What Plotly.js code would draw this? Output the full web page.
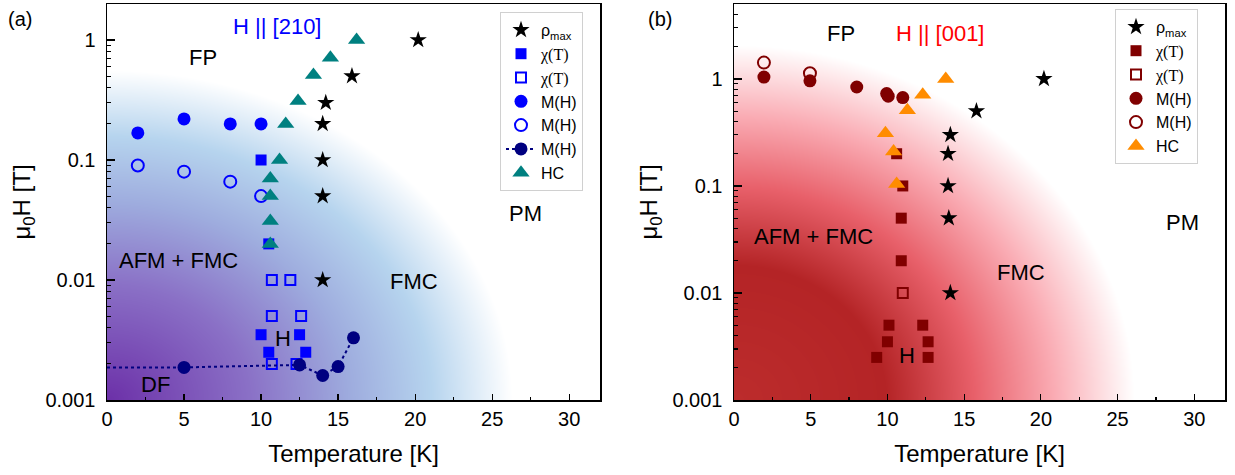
<!DOCTYPE html>
<html>
<head>
<meta charset="utf-8">
<script src="https://cdn.plot.ly/plotly-3.0.1.min.js"></script>
<style>html,body{margin:0;padding:0;background:#fff;}#chart{width:1235px;height:475px;}</style>
</head>
<body>
<div id="chart"></div>
<script>
// ---------- Panel (a): H || [210] ----------
const a_rho_T = [20.2, 15.9, 14.2, 14.0, 14.0, 14.0, 14.0];
const a_rho_H = [1.0, 0.5, 0.3, 0.2, 0.1, 0.05, 0.01];
const a_chiF_T = [10.0, 10.5, 10.0, 12.5, 10.5, 12.9];
const a_chiF_H = [0.1, 0.02, 0.0035, 0.0035, 0.0025, 0.0025];
const a_chiO_T = [10.7, 11.9, 10.7, 12.6, 10.7, 12.3];
const a_chiO_H = [0.01, 0.01, 0.005, 0.005, 0.002, 0.002];
const a_MF_T = [2.0, 5.0, 8.0, 10.0];
const a_MF_H = [0.168, 0.22, 0.2, 0.2];
const a_MO_T = [2.0, 5.0, 8.0, 10.0];
const a_MO_H = [0.09, 0.08, 0.066, 0.05];
const a_MD_T = [5.0, 12.5, 14.0, 15.0, 16.0];
const a_MD_H = [0.00187, 0.00196, 0.0016, 0.0019, 0.0033];
const a_MDline_T = [0.0, 5.0];
const a_MDline_H = [0.00187, 0.00187];
const a_HC_T = [16.2, 14.5, 13.4, 12.4, 11.6, 11.2, 10.6, 10.6, 10.6, 10.6];
const a_HC_H = [1.0, 0.71, 0.51, 0.31, 0.2, 0.1, 0.07, 0.05, 0.031, 0.02];

// ---------- Panel (b): H || [001] ----------
const b_rho_T = [20.2, 15.8, 14.1, 13.95, 13.95, 14.0, 14.1];
const b_rho_H = [1.0, 0.5, 0.3, 0.2, 0.1, 0.05, 0.01];
const b_chiF_T = [10.6, 11.0, 10.9, 10.9, 10.1, 12.3, 10.0, 12.65, 9.3, 12.65];
const b_chiF_H = [0.2, 0.1, 0.05, 0.02, 0.005, 0.005, 0.0035, 0.0035, 0.0025, 0.0025];
const b_chiO_T = [11.0];
const b_chiO_H = [0.01];
const b_MF_T = [1.95, 4.95, 8.0, 9.95, 10.05, 11.0];
const b_MF_H = [1.04, 0.96, 0.84, 0.73, 0.69, 0.67];
const b_MO_T = [1.95, 4.95];
const b_MO_H = [1.42, 1.13];
const b_HC_T = [13.8, 12.3, 11.3, 9.87, 10.4, 10.6];
const b_HC_H = [1.0, 0.71, 0.51, 0.31, 0.21, 0.104];

const xTicks = [0, 5, 10, 15, 20, 25, 30];
const xMinor = [2.5, 7.5, 12.5, 17.5, 22.5, 27.5];
const yTicks = [0.001, 0.01, 0.1, 1];
const yTickText = ['0.001', '0.01', '0.1', '1'];
const yMinor = [];
[0.001, 0.01, 0.1, 1].forEach(d => { for (let k = 2; k <= 9; k++) yMinor.push(d * k); });

// ---------- layout geometry ----------
const W = 1235, H = 475;
const P = {
  a: {l: 107, r: 600, t: 4, b: 400},
  b: {l: 734, r: 1225, t: 4, b: 400}
};
const dom = p => ({x: [p.l / W, p.r / W], y: [1 - p.b / H, 1 - p.t / H]});
const dA = dom(P.a), dB = dom(P.b);

// ---------- background gradient images ----------
function gradImage(w, h, rx, ry, stops) {
  const c = document.createElement('canvas');
  c.width = w; c.height = h;
  const ctx = c.getContext('2d');
  const img = ctx.createImageData(w, h);
  for (let py = 0; py < h; py++) {
    for (let px = 0; px < w; px++) {
      const dx = px / rx, dy = (h - py) / ry;
      const r = Math.sqrt(dx * dx + dy * dy);
      let col = [255, 255, 255];
      for (let i = 0; i < stops.length - 1; i++) {
        const s0 = stops[i], s1 = stops[i + 1];
        if (r >= s0[0] && r <= s1[0]) {
          const f = (r - s0[0]) / (s1[0] - s0[0]);
          col = [0, 1, 2].map(j => s0[1][j] + (s1[1][j] - s0[1][j]) * f);
          break;
        }
      }
      if (r < stops[0][0]) col = stops[0][1];
      const o = (py * w + px) * 4;
      img.data[o] = col[0]; img.data[o + 1] = col[1]; img.data[o + 2] = col[2]; img.data[o + 3] = 255;
    }
  }
  ctx.putImageData(img, 0, 0);
  return c.toDataURL('image/png');
}
const imgA = gradImage(P.a.r - P.a.l, P.a.b - P.a.t, 405, 330, [
  [0, [108, 48, 168]], [0.35, [138, 112, 198]], [0.6, [158, 172, 222]],
  [0.8, [182, 212, 238]], [1.0, [255, 255, 255]], [10, [255, 255, 255]]
]);
const imgB = gradImage(P.b.r - P.b.l, P.b.b - P.b.t, 400, 355, [
  [0, [188, 44, 44]], [0.38, [180, 36, 38]], [0.6, [232, 96, 106]],
  [0.8, [250, 172, 180]], [1.0, [255, 255, 255]], [10, [255, 255, 255]]
]);

// ---------- traces ----------
const FONT = 'Liberation Sans, Arial, sans-serif';
const chiLbl = '<span style="font-family:Liberation Serif">χ(T)</span>';
const blue = '#0000ff', navy = '#000080', teal = '#008080';
const dred = '#800000', orange = '#ff8c00';

function tr(x, y, name, marker, xa, ya, lg, extra) {
  return Object.assign({type: 'scatter', mode: 'markers', x: x, y: y, name: name,
    marker: marker, xaxis: xa, yaxis: ya, legend: lg, cliponaxis: false}, extra || {});
}
const data = [
  // panel a
  tr(a_MDline_T, a_MDline_H, 'M(H)', {size: 1}, 'x', 'y', 'legend',
     {mode: 'lines', line: {color: navy, width: 2, dash: 'dot'}, showlegend: false}),
  tr(a_rho_T, a_rho_H, 'ρ<sub>max</sub>', {symbol: 'star', size: 13, color: 'black'}, 'x', 'y', 'legend'),
  tr(a_chiF_T, a_chiF_H, chiLbl, {symbol: 'square', size: 11, color: blue}, 'x', 'y', 'legend'),
  tr(a_chiO_T, a_chiO_H, chiLbl, {symbol: 'square-open', size: 10, color: blue, line: {width: 2}}, 'x', 'y', 'legend'),
  tr(a_MF_T, a_MF_H, 'M(H)', {symbol: 'circle', size: 13, color: blue}, 'x', 'y', 'legend'),
  tr(a_MO_T, a_MO_H, 'M(H)', {symbol: 'circle-open', size: 12, color: blue, line: {width: 2}}, 'x', 'y', 'legend'),
  tr(a_MD_T, a_MD_H, 'M(H)', {symbol: 'circle', size: 13, color: navy}, 'x', 'y', 'legend',
     {mode: 'lines+markers', line: {color: navy, width: 2, dash: 'dot'}}),
  tr(a_HC_T, a_HC_H, 'HC', {symbol: 'triangle-up', size: 15, color: teal}, 'x', 'y', 'legend'),
  // panel b
  tr(b_rho_T, b_rho_H, 'ρ<sub>max</sub>', {symbol: 'star', size: 13, color: 'black'}, 'x2', 'y2', 'legend2'),
  tr(b_chiF_T, b_chiF_H, chiLbl, {symbol: 'square', size: 11, color: dred}, 'x2', 'y2', 'legend2'),
  tr(b_chiO_T, b_chiO_H, chiLbl, {symbol: 'square-open', size: 10, color: dred, line: {width: 2}}, 'x2', 'y2', 'legend2'),
  tr(b_MF_T, b_MF_H, 'M(H)', {symbol: 'circle', size: 13, color: dred}, 'x2', 'y2', 'legend2'),
  tr(b_MO_T, b_MO_H, 'M(H)', {symbol: 'circle-open', size: 12, color: dred, line: {width: 2}}, 'x2', 'y2', 'legend2'),
  tr(b_HC_T, b_HC_H, 'HC', {symbol: 'triangle-up', size: 15, color: orange}, 'x2', 'y2', 'legend2')
];

// ---------- axes ----------
function xAx(domain, anchor) {
  return {domain: domain, anchor: anchor, range: [0, 32], tickmode: 'array', tickvals: xTicks,
    ticks: 'inside', ticklen: 6, tickwidth: 1.2, tickcolor: '#000',
    showline: true, linecolor: '#000', linewidth: 1.5, mirror: true,
    showgrid: false, zeroline: false, tickfont: {size: 20, color: '#000', family: FONT},
    minor: {tickmode: 'array', tickvals: xMinor, ticks: 'inside', ticklen: 3, tickwidth: 1.2, tickcolor: '#000', showgrid: false},
    title: {text: 'Temperature [K]', font: {size: 24, color: '#000', family: FONT}, standoff: 16}};
}
function yAx(domain, anchor, top) {
  return {domain: domain, anchor: anchor, type: 'log', range: [-3, top], tickmode: 'array',
    tickvals: yTicks, ticktext: yTickText,
    ticks: 'inside', ticklen: 8, tickwidth: 1.2, tickcolor: '#000',
    showline: true, linecolor: '#000', linewidth: 1.5, mirror: true,
    showgrid: false, zeroline: false, tickfont: {size: 20, color: '#000', family: FONT},
    ticklabelstandoff: 6,
    minor: {tickmode: 'array', tickvals: yMinor, ticks: 'inside', ticklen: 4, tickwidth: 1.2, tickcolor: '#000', showgrid: false},
    title: {text: 'μ<sub>0</sub>H [T]', font: {size: 24, color: '#000', family: FONT}, standoff: 8}};
}

// ---------- annotations ----------
function ann(text, px, py, opts) {
  return Object.assign({text: text, xref: 'paper', yref: 'paper', x: px / W, y: 1 - py / H,
    xanchor: 'center', yanchor: 'middle', showarrow: false,
    font: {size: 22, color: '#000', family: FONT}}, opts || {});
}
const annotations = [
  ann('(a)', 20, 19, {font: {size: 20, color: '#000', family: FONT}}),
  ann('(b)', 660, 19, {font: {size: 20, color: '#000', family: FONT}}),
  ann('H || [210]', 277, 26, {font: {size: 22, color: '#0000ff', family: FONT}}),
  ann('FP', 203, 58),
  ann('AFM + FMC', 178, 260),
  ann('FMC', 414, 281),
  ann('PM', 525, 213),
  ann('H', 283, 338),
  ann('DF', 155, 384),
  ann('FP', 841, 33),
  ann('H || [001]', 940, 33, {font: {size: 22, color: '#ff0000', family: FONT}}),
  ann('AFM + FMC', 813, 236),
  ann('FMC', 1021, 272),
  ann('PM', 1182, 222),
  ann('H', 907, 355)
];

const legendBase = {xanchor: 'left', yanchor: 'top', bgcolor: '#ffffff', bordercolor: '#d0d0d0',
  borderwidth: 1, font: {size: 16, color: '#000', family: FONT}, tracegroupgap: 0, itemwidth: 30};

const layout = {
  width: W, height: H, margin: {l: 0, r: 0, t: 0, b: 0},
  paper_bgcolor: '#ffffff', plot_bgcolor: 'rgba(0,0,0,0)',
  font: {family: FONT, color: '#000'},
  xaxis: xAx(dA.x, 'y'), yaxis: yAx(dA.y, 'x', 0.3),
  xaxis2: xAx(dB.x, 'y2'), yaxis2: yAx(dB.y, 'x2', 0.7),
  legend: Object.assign({x: 500 / W, y: 1 - 12 / H}, legendBase),
  legend2: Object.assign({x: 1115 / W, y: 1 - 9 / H}, legendBase),
  images: [
    {source: imgA, xref: 'paper', yref: 'paper', x: dA.x[0], y: dA.y[1], sizex: dA.x[1] - dA.x[0],
     sizey: dA.y[1] - dA.y[0], xanchor: 'left', yanchor: 'top', sizing: 'stretch', layer: 'below'},
    {source: imgB, xref: 'paper', yref: 'paper', x: dB.x[0], y: dB.y[1], sizex: dB.x[1] - dB.x[0],
     sizey: dB.y[1] - dB.y[0], xanchor: 'left', yanchor: 'top', sizing: 'stretch', layer: 'below'}
  ],
  annotations: annotations,
  showlegend: true
};

Plotly.newPlot('chart', data, layout, {displayModeBar: false, staticPlot: true});
</script>
</body>
</html>
